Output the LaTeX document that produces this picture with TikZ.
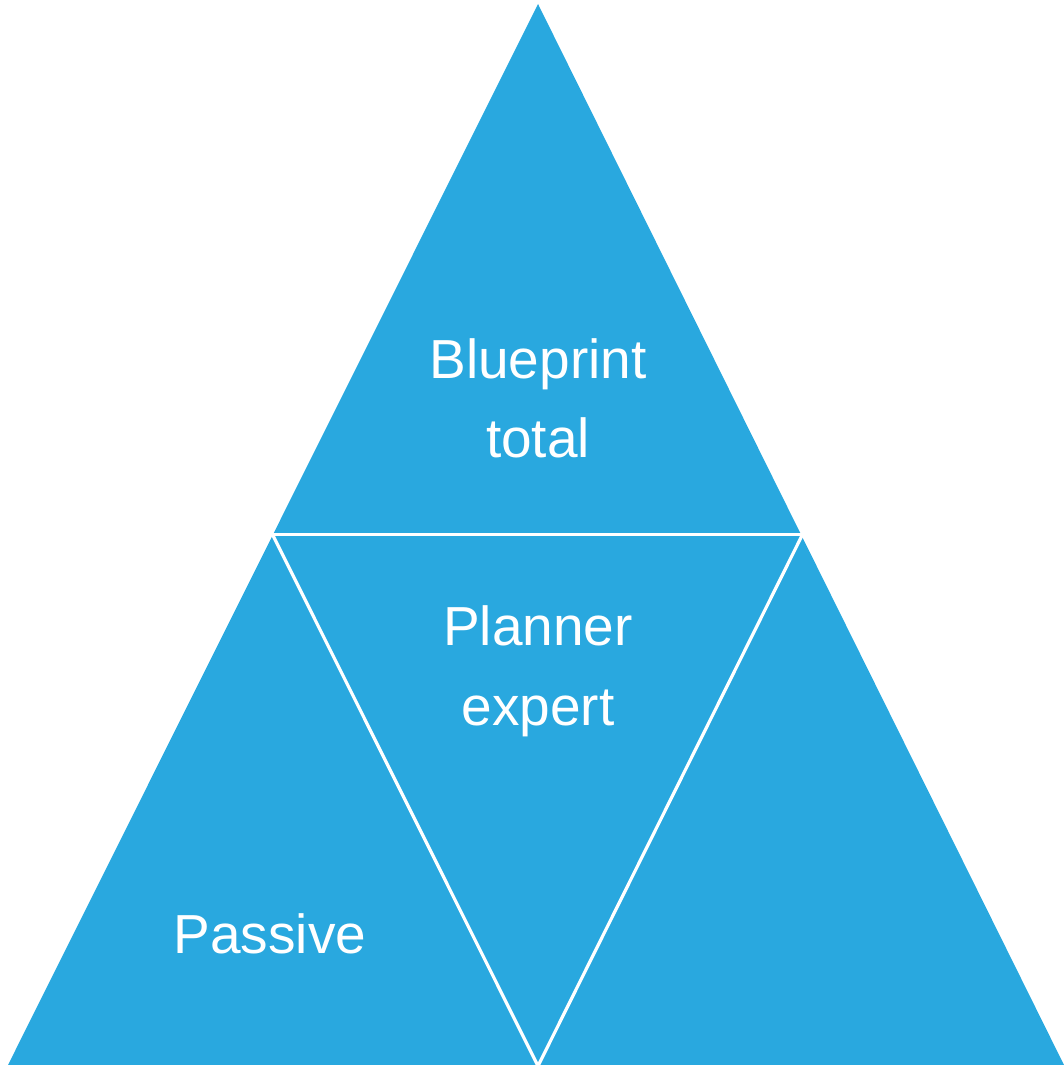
\documentclass[tikz,border=0pt]{standalone}
\usepackage{fontspec}
\setmainfont{Liberation Sans}
\definecolor{pyrblue}{RGB}{41,168,223}
\begin{document}
\begin{tikzpicture}[x=1pt,y=-1pt,
  lbl/.style={text=white,font=\fontsize{55}{79}\selectfont,align=center,inner sep=0pt,anchor=base},
  sep/.style={draw=white,line width=3.2pt}]
\useasboundingbox (0,0) rectangle (1064,1065);
\coordinate (apex) at (538,4);
\coordinate (bl) at (8,1065);
\coordinate (br) at (1064,1065);
\coordinate (ml) at (272.5,534.5);
\coordinate (mr) at (802.5,534.5);
\coordinate (bm) at (538,1066);
\fill[pyrblue] (apex) -- (bl) -- (br) -- cycle;
\draw[sep] (ml) -- (mr);
\draw[sep] (ml) -- (bm);
\draw[sep] (mr) -- (bm);
\node[lbl] (top) at (538,378) {Blueprint};
\node[lbl] (top2) at (538,457) {total};
\node[lbl] (mid) at (538,645) {Planner};
\node[lbl] (mid2) at (538,725) {expert};
\node[lbl] (left) at (270,953) {Passive};
\end{tikzpicture}
\end{document}
